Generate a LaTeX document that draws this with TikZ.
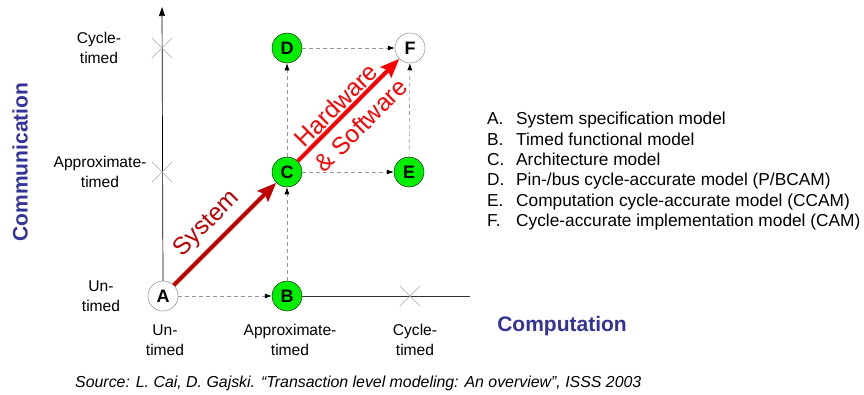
\documentclass[tikz,border=0pt]{standalone}
\usepackage{fontspec}
\setmainfont{Liberation Sans}
\usetikzlibrary{arrows.meta}
\definecolor{nodegreen}{RGB}{0,238,0}
\definecolor{axisblue}{RGB}{51,51,153}
\definecolor{sysred}{RGB}{192,0,0}
\definecolor{hwred}{RGB}{255,0,0}
\definecolor{dashgray}{RGB}{150,150,150}
\newcommand{\itemletter}[1]{\makebox[29pt][l]{#1}}
\tikzset{
  x=1pt, y=-1pt,
  model/.style={circle, draw=black!85, line width=0.5pt, minimum size=30pt, inner sep=0pt,
    font=\fontsize{18}{18}\selectfont\bfseries},
  greenmodel/.style={model, fill=nodegreen},
  whitemodel/.style={model, draw=black!45, fill=white},
  refine/.style={draw=dashgray, dash pattern=on 4pt off 3pt, line width=0.6pt,
    -{Latex[length=7pt,width=5pt,color=black]}},
  bigarrow/.style={line width=4pt, -{Stealth[length=19pt,width=15pt,inset=3pt]}},
  flowlabel/.style={rotate=45, inner sep=0pt, font=\fontsize{24.4}{24.4}\selectfont},
  level/.style={align=center, inner sep=0pt, font=\fontsize{15.6}{20}\selectfont},
  cross/.style={draw=black!35, line width=0.5pt},
  axistitle/.style={text=axisblue, inner sep=0pt, font=\fontsize{21}{21}\selectfont\bfseries},
  legend/.style={anchor=base west, inner sep=0pt, font=\fontsize{17.3}{20}\selectfont}
}
\begin{document}
\begin{tikzpicture}
\useasboundingbox (0,0) rectangle (864,394);

% model nodes
\node[whitemodel] (A) at (163,296) {A};
\node[greenmodel] (B) at (287,296) {B};
\node[greenmodel] (C) at (287,172) {C};
\node[greenmodel] (D) at (287,48) {D};
\node[greenmodel] (E) at (409,172) {E};
\node[whitemodel] (F) at (410,48) {F};

% axes
\coordinate (ytop) at (162,7);
\coordinate (xend) at (470,296);
\draw[line width=0.7pt, -{Triangle[length=9pt,width=6pt]}] (A.north) -- (ytop);
\draw[line width=0.7pt, black!80] (B.east) -- (xend);

% crosses on the axes
\foreach \cx/\cy in {162/48, 162/172, 410/296}
  \draw[cross] (\cx-10,\cy-10) -- (\cx+10,\cy+10) (\cx-10,\cy+10) -- (\cx+10,\cy-10);

% refinement steps
\draw[refine] (A) -- (B);
\draw[refine] (B) -- (C);
\draw[refine] (C) -- (D);
\draw[refine] (C) -- (E);
\draw[refine] (D) -- (F);
\draw[refine] (E) -- (F);

% design flow
\draw[bigarrow, sysred] (A) -- (C);
\draw[bigarrow, hwred] (C) -- (F);
\node[flowlabel, text=sysred] (sys) at (207,224) {System};
\node[flowlabel, text=hwred] (hw) at (336,105) {Hardware};
\node[flowlabel, text=hwred] (sw) at (361,125) {\& Software};

% axis level labels
\node[level] (cy) at (99,48) {Cycle-\\timed};
\node[level] (ay) at (100,172) {Approximate-\\timed};
\node[level] (uy) at (101,296) {Un-\\timed};
\node[level] (ux) at (165,340) {Un-\\timed};
\node[level] (ax) at (290,340) {Approximate-\\timed};
\node[level] (cx) at (415,340) {Cycle-\\timed};

% axis titles
\node[axistitle, rotate=90] (comm) at (20,162) {Communication};
\node[axistitle] (comp) at (562,326) {Computation};

% legend
\node[legend] (la) at (487,124) {\itemletter{A.}System specification model};
\node[legend] (lb) at (487,145) {\itemletter{B.}Timed functional model};
\node[legend] (lc) at (487,165) {\itemletter{C.}Architecture model};
\node[legend] (ld) at (487,185) {\itemletter{D.}Pin-/bus cycle-accurate model (P/BCAM)};
\node[legend] (le) at (487,206) {\itemletter{E.}Computation cycle-accurate model (CCAM)};
\node[legend] (lf) at (487,226) {\itemletter{F.}Cycle-accurate implementation model (CAM)};

% source
\node[anchor=base west, inner sep=0pt, font=\fontsize{15.9}{16}\selectfont\itshape] (src) at (75,387)
  {Source: L. Cai, D. Gajski. “Transaction level modeling: An overview”, ISSS 2003};
\end{tikzpicture}
\end{document}
